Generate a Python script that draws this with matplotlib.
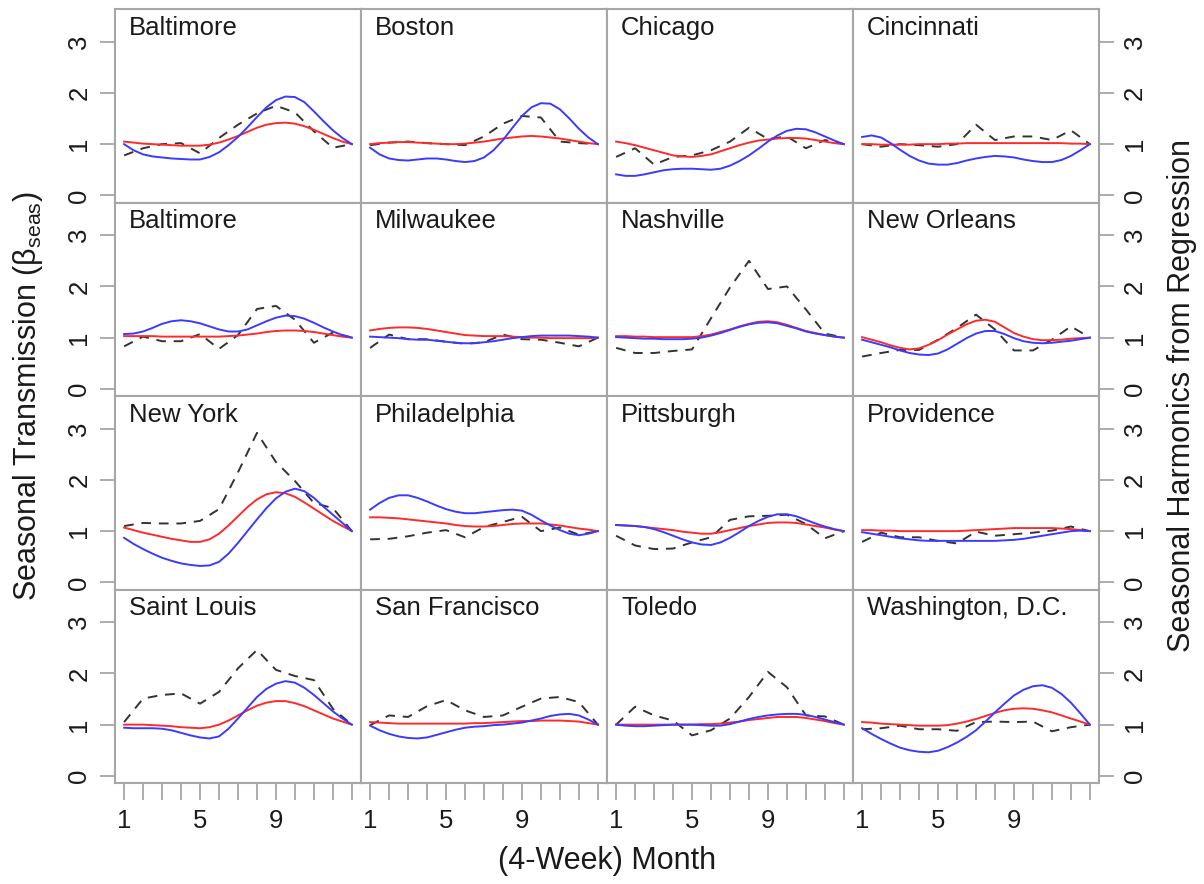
"""
Seasonal transmission by city: beta_seas estimates vs. regression harmonics.
"""

import numpy as np
import matplotlib.pyplot as plt

plt.rcParams['font.family'] = ['Liberation Sans', 'DejaVu Sans']
plt.rcParams['mathtext.fontset'] = 'custom'
plt.rcParams['mathtext.rm'] = 'Liberation Sans'

CITIES = ['Baltimore', 'Boston', 'Chicago', 'Cincinnati',
          'Baltimore', 'Milwaukee', 'Nashville', 'New Orleans',
          'New York', 'Philadelphia', 'Pittsburgh', 'Providence',
          'Saint Louis', 'San Francisco', 'Toledo', 'Washington, D.C.']

MONTHS = list(range(1, 14))
MONTHS_HALF = [1 + 0.5 * i for i in range(25)]
TICK_LABELS = ['1', '', '', '', '5', '', '', '', '9', '', '', '', '']

# dashed: seasonal transmission estimate, one value per (4-week) month
BETA_SEAS = [
    [0.78, 0.92, 1.0, 1.02, 0.82, 1.12, 1.38, 1.6, 1.75, 1.62, 1.25, 0.93, 1.0],
    [0.98, 1.03, 1.05, 1.02, 1.0, 0.98, 1.15, 1.4, 1.55, 1.52, 1.05, 1.02, 1.0],
    [0.75, 0.92, 0.6, 0.75, 0.78, 0.88, 1.05, 1.32, 1.1, 1.15, 0.92, 1.08, 1.0],
    [1.0, 0.95, 1.0, 0.98, 0.95, 1.0, 1.38, 1.08, 1.15, 1.15, 1.08, 1.27, 1.0],
    [0.83, 1.02, 0.93, 0.93, 1.07, 0.78, 1.05, 1.56, 1.62, 1.35, 0.9, 1.1, 1.0],
    [0.8, 1.06, 0.97, 0.97, 0.92, 0.88, 0.91, 1.06, 0.97, 0.96, 0.9, 0.83, 1.0],
    [0.8, 0.7, 0.7, 0.74, 0.77, 1.38, 1.98, 2.5, 1.95, 2.0, 1.55, 1.08, 1.0],
    [0.63, 0.7, 0.76, 0.76, 0.96, 1.19, 1.45, 1.16, 0.75, 0.75, 0.96, 1.22, 1.0],
    [1.1, 1.16, 1.15, 1.15, 1.2, 1.43, 2.15, 2.92, 2.35, 1.98, 1.55, 1.45, 1.0],
    [0.84, 0.85, 0.9, 0.97, 1.02, 0.88, 1.08, 1.18, 1.28, 1.0, 1.07, 0.93, 1.0],
    [0.91, 0.72, 0.65, 0.66, 0.78, 0.88, 1.22, 1.29, 1.3, 1.32, 1.14, 0.86, 1.0],
    [0.79, 0.97, 0.88, 0.88, 0.81, 0.76, 0.99, 0.91, 0.94, 0.97, 1.01, 1.09, 1.0],
    [1.05, 1.51, 1.58, 1.61, 1.41, 1.64, 2.1, 2.46, 2.07, 1.95, 1.87, 1.31, 1.0],
    [0.99, 1.18, 1.15, 1.36, 1.48, 1.28, 1.15, 1.18, 1.35, 1.51, 1.54, 1.44, 1.0],
    [1.0, 1.35, 1.18, 1.08, 0.79, 0.89, 1.12, 1.54, 2.03, 1.73, 1.18, 1.16, 1.0],
    [0.91, 0.93, 0.98, 0.91, 0.91, 0.88, 1.05, 1.06, 1.05, 1.06, 0.87, 0.95, 1.0],
]

# blue: harmonic fit, read every half month
HARMONIC_BLUE = [
    [1.0, 0.88, 0.80, 0.76, 0.74, 0.72, 0.71, 0.70, 0.70, 0.75, 0.84, 0.98, 1.14,
     1.33, 1.53, 1.72, 1.86, 1.93, 1.92, 1.82, 1.64, 1.45, 1.27, 1.12, 1.0],
    [0.93, 0.80, 0.72, 0.69, 0.68, 0.70, 0.72, 0.72, 0.70, 0.67, 0.65, 0.67, 0.74,
     0.88, 1.08, 1.32, 1.55, 1.72, 1.80, 1.79, 1.68, 1.50, 1.30, 1.13, 1.0],
    [0.41, 0.38, 0.38, 0.41, 0.45, 0.49, 0.51, 0.52, 0.52, 0.51, 0.50, 0.52, 0.58,
     0.67, 0.78, 0.91, 1.05, 1.17, 1.26, 1.30, 1.29, 1.23, 1.15, 1.07, 1.0],
    [1.14, 1.17, 1.13, 1.02, 0.89, 0.77, 0.68, 0.62, 0.60, 0.60, 0.63, 0.68, 0.72,
     0.75, 0.77, 0.76, 0.74, 0.70, 0.67, 0.65, 0.65, 0.69, 0.77, 0.88, 1.0],
    [1.07, 1.08, 1.12, 1.19, 1.27, 1.32, 1.34, 1.32, 1.28, 1.22, 1.16, 1.12, 1.12,
     1.16, 1.24, 1.32, 1.39, 1.43, 1.42, 1.37, 1.29, 1.20, 1.12, 1.05, 1.0],
    [1.02, 1.01, 1.0, 0.99, 0.97, 0.96, 0.96, 0.94, 0.92, 0.90, 0.89, 0.89, 0.91,
     0.93, 0.96, 0.99, 1.01, 1.03, 1.04, 1.04, 1.04, 1.04, 1.03, 1.02, 1.0],
    [1.01, 1.0, 0.99, 0.98, 0.98, 0.97, 0.97, 0.97, 0.98, 1.0, 1.04, 1.09, 1.15,
     1.21, 1.26, 1.29, 1.30, 1.28, 1.23, 1.18, 1.12, 1.08, 1.05, 1.02, 1.0],
    [0.96, 0.91, 0.86, 0.81, 0.75, 0.70, 0.67, 0.66, 0.69, 0.77, 0.88, 0.99, 1.08,
     1.13, 1.13, 1.07, 0.99, 0.93, 0.90, 0.89, 0.90, 0.92, 0.94, 0.97, 1.0],
    [0.87, 0.75, 0.65, 0.56, 0.48, 0.42, 0.37, 0.34, 0.32, 0.33, 0.40, 0.56, 0.77,
     1.0, 1.23, 1.45, 1.64, 1.77, 1.83, 1.78, 1.65, 1.48, 1.32, 1.16, 1.0],
    [1.42, 1.55, 1.65, 1.70, 1.70, 1.65, 1.58, 1.50, 1.43, 1.38, 1.35, 1.35, 1.37,
     1.39, 1.41, 1.42, 1.40, 1.32, 1.21, 1.11, 1.02, 0.95, 0.92, 0.95, 1.0],
    [1.12, 1.11, 1.10, 1.08, 1.04, 0.98, 0.91, 0.84, 0.78, 0.74, 0.73, 0.78, 0.87,
     0.98, 1.10, 1.20, 1.28, 1.33, 1.33, 1.29, 1.22, 1.15, 1.09, 1.04, 1.0],
    [0.98, 0.95, 0.92, 0.89, 0.86, 0.84, 0.82, 0.81, 0.81, 0.81, 0.81, 0.81, 0.81,
     0.81, 0.81, 0.82, 0.83, 0.85, 0.88, 0.91, 0.94, 0.97, 1.0, 1.01, 1.0],
    [0.94, 0.93, 0.93, 0.93, 0.92, 0.89, 0.84, 0.79, 0.75, 0.73, 0.77, 0.92, 1.12,
     1.33, 1.54, 1.70, 1.80, 1.85, 1.82, 1.72, 1.58, 1.42, 1.26, 1.12, 1.0],
    [0.98, 0.89, 0.82, 0.77, 0.74, 0.73, 0.75, 0.80, 0.85, 0.90, 0.94, 0.96, 0.97,
     0.99, 1.0, 1.02, 1.04, 1.08, 1.12, 1.17, 1.20, 1.21, 1.18, 1.10, 1.0],
    [1.0, 0.98, 0.97, 0.97, 0.98, 0.99, 1.0, 1.0, 1.0, 0.99, 0.98, 0.98, 1.01,
     1.06, 1.11, 1.15, 1.18, 1.20, 1.21, 1.21, 1.19, 1.15, 1.10, 1.05, 1.0],
    [0.93, 0.82, 0.72, 0.63, 0.55, 0.50, 0.47, 0.46, 0.49, 0.56, 0.65, 0.76, 0.89,
     1.06, 1.24, 1.41, 1.57, 1.68, 1.75, 1.77, 1.72, 1.60, 1.43, 1.22, 1.0],
]

# red: harmonic fit, read every half month
HARMONIC_RED = [
    [1.05, 1.03, 1.01, 1.0, 0.99, 0.98, 0.97, 0.97, 0.97, 0.99, 1.03, 1.09, 1.16,
     1.24, 1.32, 1.38, 1.41, 1.42, 1.40, 1.35, 1.28, 1.20, 1.12, 1.05, 1.0],
    [1.0, 1.02, 1.03, 1.04, 1.04, 1.03, 1.02, 1.01, 1.0, 1.0, 1.01, 1.03, 1.05,
     1.08, 1.11, 1.13, 1.15, 1.16, 1.15, 1.13, 1.11, 1.08, 1.05, 1.02, 1.0],
    [1.05, 1.02, 0.98, 0.93, 0.88, 0.83, 0.78, 0.76, 0.75, 0.77, 0.80, 0.86, 0.92,
     0.98, 1.03, 1.07, 1.09, 1.11, 1.12, 1.12, 1.11, 1.08, 1.05, 1.02, 1.0],
    [1.0, 1.0, 0.99, 0.99, 0.99, 0.99, 1.0, 1.0, 1.0, 1.01, 1.01, 1.02, 1.02,
     1.02, 1.02, 1.02, 1.02, 1.02, 1.02, 1.02, 1.02, 1.02, 1.01, 1.01, 1.0],
    [1.03, 1.03, 1.03, 1.03, 1.02, 1.02, 1.02, 1.02, 1.02, 1.02, 1.02, 1.03, 1.04,
     1.06, 1.08, 1.11, 1.13, 1.14, 1.14, 1.13, 1.11, 1.08, 1.05, 1.02, 1.0],
    [1.14, 1.17, 1.19, 1.20, 1.20, 1.19, 1.17, 1.14, 1.11, 1.08, 1.05, 1.04, 1.03,
     1.03, 1.03, 1.02, 1.01, 1.0, 1.0, 0.99, 0.99, 0.99, 0.99, 0.99, 1.0],
    [1.03, 1.03, 1.02, 1.02, 1.01, 1.01, 1.01, 1.01, 1.01, 1.03, 1.06, 1.11, 1.16,
     1.22, 1.27, 1.31, 1.32, 1.30, 1.25, 1.19, 1.13, 1.09, 1.05, 1.02, 1.0],
    [1.01, 0.96, 0.91, 0.85, 0.80, 0.77, 0.79, 0.86, 0.95, 1.06, 1.16, 1.26, 1.33,
     1.35, 1.31, 1.20, 1.09, 1.02, 0.97, 0.95, 0.95, 0.96, 0.98, 0.99, 1.0],
    [1.07, 1.02, 0.97, 0.93, 0.89, 0.85, 0.82, 0.79, 0.79, 0.84, 0.95, 1.11, 1.29,
     1.47, 1.62, 1.72, 1.76, 1.74, 1.67, 1.56, 1.44, 1.32, 1.20, 1.10, 1.0],
    [1.27, 1.27, 1.26, 1.25, 1.23, 1.21, 1.19, 1.17, 1.15, 1.12, 1.10, 1.09, 1.09,
     1.10, 1.12, 1.14, 1.15, 1.15, 1.15, 1.13, 1.11, 1.08, 1.05, 1.03, 1.0],
    [1.12, 1.11, 1.10, 1.08, 1.06, 1.04, 1.02, 0.99, 0.97, 0.95, 0.95, 0.98, 1.02,
     1.06, 1.10, 1.13, 1.16, 1.17, 1.17, 1.16, 1.13, 1.10, 1.07, 1.03, 1.0],
    [1.02, 1.02, 1.01, 1.01, 1.0, 1.0, 1.0, 1.0, 1.0, 1.0, 1.0, 1.01, 1.02,
     1.03, 1.04, 1.05, 1.06, 1.06, 1.06, 1.06, 1.06, 1.05, 1.04, 1.02, 1.0],
    [1.0, 1.0, 1.0, 0.99, 0.98, 0.97, 0.95, 0.94, 0.93, 0.95, 1.0, 1.08, 1.18,
     1.28, 1.37, 1.43, 1.46, 1.46, 1.42, 1.36, 1.28, 1.20, 1.12, 1.06, 1.0],
    [1.05, 1.04, 1.03, 1.02, 1.02, 1.02, 1.02, 1.02, 1.02, 1.02, 1.02, 1.03, 1.03,
     1.04, 1.05, 1.06, 1.07, 1.07, 1.08, 1.08, 1.08, 1.07, 1.06, 1.03, 1.0],
    [1.0, 1.0, 1.0, 1.0, 1.0, 1.0, 1.0, 1.0, 1.0, 1.01, 1.01, 1.02, 1.04,
     1.06, 1.09, 1.11, 1.13, 1.15, 1.15, 1.15, 1.13, 1.10, 1.07, 1.03, 1.0],
    [1.05, 1.04, 1.02, 1.01, 1.0, 0.99, 0.98, 0.98, 0.98, 0.99, 1.02, 1.06, 1.11,
     1.17, 1.23, 1.28, 1.31, 1.32, 1.31, 1.28, 1.24, 1.18, 1.12, 1.06, 1.0],
]

FRAME = '#a6a6a6'
TEXT = '#1a1a1a'


def draw_panel(ax, i):
    row, col = divmod(i, 4)
    ax.plot(MONTHS, BETA_SEAS[i], color='#333333', lw=1.4, dashes=(5, 4))
    ax.plot(MONTHS_HALF, HARMONIC_RED[i], color='#ff2a2a', lw=1.4)
    ax.plot(MONTHS_HALF, HARMONIC_BLUE[i], color='#3b3bff', lw=1.4)

    ax.set_xlim(0.52, 13.48)
    ax.set_ylim(-0.14, 3.64)
    for sp in ax.spines.values():
        sp.set_color(FRAME)
        sp.set_linewidth(1.5)

    ax.text(0.057, 0.965, CITIES[i], transform=ax.transAxes, ha='left', va='top',
            fontsize=18.5, color=TEXT)

    ax.tick_params(colors=FRAME, labelcolor=TEXT, width=1.3, labelsize=18.5)
    if row == 3:
        ax.set_xticks(MONTHS)
        ax.set_xticklabels(TICK_LABELS)
        ax.tick_params(axis='x', length=12, pad=7)
    else:
        ax.set_xticks([])

    ax.set_yticks([0, 1, 2, 3])
    if col == 0:
        ax.tick_params(axis='y', length=11, pad=6)
        for lab in ax.get_yticklabels():
            lab.set_rotation(90)
            lab.set_va('center')
    elif col == 3:
        ax.yaxis.tick_right()
        ax.tick_params(axis='y', length=11, pad=6)
        for lab in ax.get_yticklabels():
            lab.set_rotation(90)
            lab.set_va('center')
    else:
        ax.set_yticks([])


def main():
    fig = plt.figure(figsize=(12.04, 8.84), dpi=100)
    left, right = 115 / 1204, 1099 / 1204
    top, bottom = 1 - 9 / 884, 1 - 783 / 884
    w = (right - left) / 4
    h = (top - bottom) / 4

    for i in range(len(CITIES)):
        row, col = divmod(i, 4)
        ax = fig.add_axes([left + col * w, top - (row + 1) * h, w, h])
        draw_panel(ax, i)

    mid_y = (top + bottom) / 2
    fig.text(0.023, mid_y, 'Seasonal Transmission (β$_{\\mathrm{seas}}$)',
             rotation=90, ha='center', va='center', fontsize=22, color=TEXT)
    fig.text(0.982, mid_y, 'Seasonal Harmonics from Regression',
             rotation=90, ha='center', va='center', fontsize=22, color=TEXT)
    fig.text((left + right) / 2, 0.026, '(4-Week) Month',
             ha='center', va='center', fontsize=22, color=TEXT)

    fig.savefig('out.png', dpi=100)
    plt.close(fig)


if __name__ == "__main__":
    main()
